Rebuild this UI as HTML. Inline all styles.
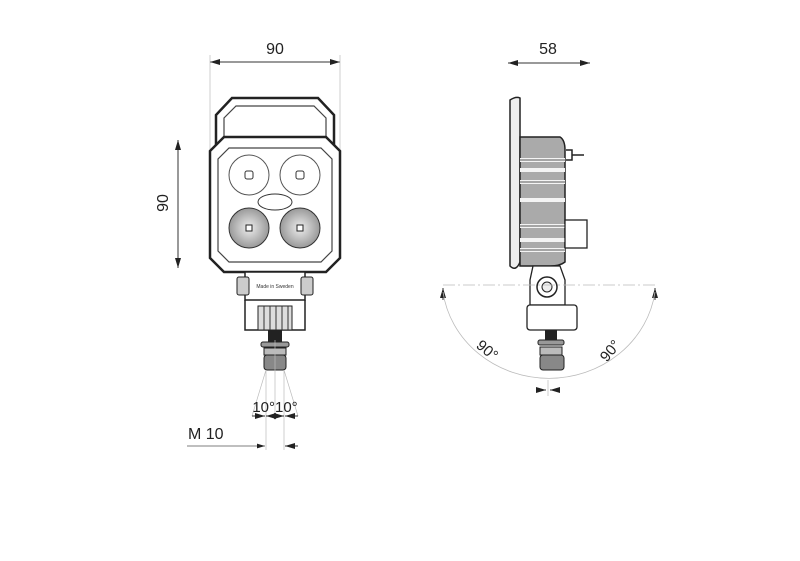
<!DOCTYPE html>
<html><head><style>body{margin:0;background:#fff}svg{display:block}</style></head><body>
<svg width="800" height="561" viewBox="0 0 800 561" xmlns="http://www.w3.org/2000/svg" font-family="Liberation Sans, sans-serif">
<defs>
<marker id="a" viewBox="0 0 10 6" refX="10" refY="3" markerWidth="10" markerHeight="6" orient="auto-start-reverse"><path d="M0,0L10,3L0,6z" fill="#222"/></marker>
<radialGradient id="g"><stop offset="0" stop-color="#eee"/><stop offset="1" stop-color="#999"/></radialGradient>
</defs>
<!-- FRONT VIEW -->
<text x="275" y="54" font-size="16" text-anchor="middle" fill="#222">90</text>
<line x1="210" y1="62" x2="340" y2="62" stroke="#333" marker-start="url(#a)" marker-end="url(#a)"/>
<line x1="210" y1="55" x2="210" y2="150" stroke="#bbb" stroke-width=".7"/>
<line x1="340" y1="55" x2="340" y2="150" stroke="#bbb" stroke-width=".7"/>
<text transform="translate(168,203) rotate(-90)" font-size="16" text-anchor="middle" fill="#222">90</text>
<line x1="178" y1="140" x2="178" y2="268" stroke="#333" marker-start="url(#a)" marker-end="url(#a)"/>
<path d="M216,150 L216,115 L232,98 L318,98 L334,115 L334,150" fill="none" stroke="#222" stroke-width="2.5"/>
<path d="M224,140 L224,118 L236,106 L314,106 L326,118 L326,140" fill="none" stroke="#444" stroke-width="1.2"/>
<path d="M224,137 L326,137 L340,151 L340,258 L326,272 L224,272 L210,258 L210,151 Z" fill="#fff" stroke="#222" stroke-width="2.5"/>
<path d="M229,148 L321,148 L332,159 L332,251 L321,262 L229,262 L218,251 L218,159 Z" fill="none" stroke="#444" stroke-width="1.2"/>
<circle cx="249" cy="175" r="20" fill="none" stroke="#555" stroke-width="1"/>
<circle cx="300" cy="175" r="20" fill="none" stroke="#555" stroke-width="1"/>
<rect x="245" y="171" width="8" height="8" rx="2" fill="none" stroke="#333"/>
<rect x="296" y="171" width="8" height="8" rx="2" fill="none" stroke="#333"/>
<ellipse cx="275" cy="202" rx="17" ry="8" fill="none" stroke="#333" stroke-width="1"/>
<circle cx="249" cy="228" r="20" fill="url(#g)" stroke="#333"/>
<circle cx="300" cy="228" r="20" fill="url(#g)" stroke="#333"/>
<rect x="246" y="225" width="6" height="6" fill="#fff" stroke="#222"/>
<rect x="297" y="225" width="6" height="6" fill="#fff" stroke="#222"/>
<rect x="245" y="272" width="60" height="28" fill="#fff" stroke="#222" stroke-width="1.5"/>
<rect x="237" y="277" width="12" height="18" rx="2" fill="#ccc" stroke="#222"/>
<rect x="301" y="277" width="12" height="18" rx="2" fill="#ccc" stroke="#222"/>
<text x="275" y="288" font-size="5" text-anchor="middle" fill="#333">Made in Sweden</text>
<path d="M245,300 L245,330 L305,330 L305,300" fill="none" stroke="#222" stroke-width="1.5"/>
<rect x="258" y="306" width="34" height="24" fill="#ddd" stroke="#222"/>
<path d="M264,306V330M270,306V330M276,306V330M282,306V330M288,306V330" stroke="#333"/>
<rect x="268" y="330" width="14" height="14" fill="#222"/>
<rect x="261" y="342" width="28" height="5" rx="2" fill="#999" stroke="#222"/>
<rect x="264" y="348" width="22" height="7" fill="#bbb" stroke="#222"/>
<rect x="264" y="355" width="22" height="15" rx="3" fill="#888" stroke="#222"/>
<path d="M266,370 L252,416 M284,370 L298,416 M266,370V450 M284,370V450 M275,340V420" stroke="#bbb" stroke-width=".7"/>
<text x="275" y="412" font-size="15" text-anchor="middle" fill="#222">10°10°</text>
<line x1="252" y1="416" x2="265" y2="416" stroke="#333" marker-end="url(#a)"/>
<line x1="275" y1="416" x2="266" y2="416" stroke="#333" marker-end="url(#a)"/>
<line x1="275" y1="416" x2="284" y2="416" stroke="#333" marker-end="url(#a)"/>
<line x1="298" y1="416" x2="285" y2="416" stroke="#333" marker-end="url(#a)"/>
<text x="188" y="439" font-size="16" fill="#222">M 10</text>
<line x1="187" y1="446" x2="265" y2="446" stroke="#555" stroke-width=".8" marker-end="url(#a)"/>
<line x1="298" y1="446" x2="285" y2="446" stroke="#333" marker-end="url(#a)"/>
<!-- SIDE VIEW -->
<text x="548" y="54" font-size="16" text-anchor="middle" fill="#222">58</text>
<line x1="508" y1="63" x2="590" y2="63" stroke="#333" marker-start="url(#a)" marker-end="url(#a)"/>
<path d="M510,100 Q516,96 520,98 L520,262 Q516,272 510,266 Z" fill="#eee" stroke="#222" stroke-width="1.5"/>
<path d="M520,137 L560,137 Q565,140 565,150 L565,262 Q560,266 550,266 L520,266 Z" fill="#aaa" stroke="#222" stroke-width="1.5"/>
<path d="M520,160H565M520,170H565M520,182H565M520,200H565M520,226H565M520,240H565M520,250H565" stroke="#f4f4f4" stroke-width="4"/>
<path d="M520,160H565M520,182H565M520,226H565M520,250H565" stroke="#222" stroke-width=".8"/>
<path d="M566,150 L572,150 L572,160 L566,160 M572,155 L584,155" stroke="#222" fill="none" stroke-width="1.5"/>
<rect x="565" y="220" width="22" height="28" fill="#fff" stroke="#222" stroke-width="1.3"/>
<path d="M533,266 L560,266 L565,280 L565,305 L530,305 L530,280 Z" fill="#fff" stroke="#222" stroke-width="1.3"/>
<circle cx="547" cy="287" r="10" fill="#fff" stroke="#222" stroke-width="1.5"/>
<circle cx="547" cy="287" r="5" fill="#eee" stroke="#222"/>
<rect x="527" y="305" width="50" height="25" rx="3" fill="#fff" stroke="#222" stroke-width="1.3"/>
<rect x="545" y="330" width="12" height="14" fill="#222"/>
<rect x="538" y="340" width="26" height="5" rx="2" fill="#999" stroke="#222"/>
<rect x="540" y="347" width="22" height="8" fill="#bbb" stroke="#222"/>
<rect x="540" y="355" width="24" height="15" rx="3" fill="#888" stroke="#222"/>
<line x1="443" y1="285" x2="657" y2="285" stroke="#bbb" stroke-width=".8" stroke-dasharray="12,3,2,3"/>
<line x1="443" y1="300" x2="443" y2="288" stroke="#333" marker-end="url(#a)"/>
<line x1="655" y1="300" x2="655" y2="288" stroke="#333" marker-end="url(#a)"/>
<path d="M443,292 A107,100 0 0 0 655,292" fill="none" stroke="#bbb" stroke-width=".8"/>
<text transform="translate(484,354) rotate(40)" font-size="15" text-anchor="middle" fill="#222">90°</text>
<text transform="translate(614,354) rotate(-50)" font-size="15" text-anchor="middle" fill="#222">90°</text>
<line x1="538" y1="390" x2="546" y2="390" stroke="#333" marker-end="url(#a)"/>
<line x1="558" y1="390" x2="550" y2="390" stroke="#333" marker-end="url(#a)"/>
<line x1="548" y1="380" x2="548" y2="396" stroke="#bbb" stroke-width=".7"/>
</svg>
</body></html>
